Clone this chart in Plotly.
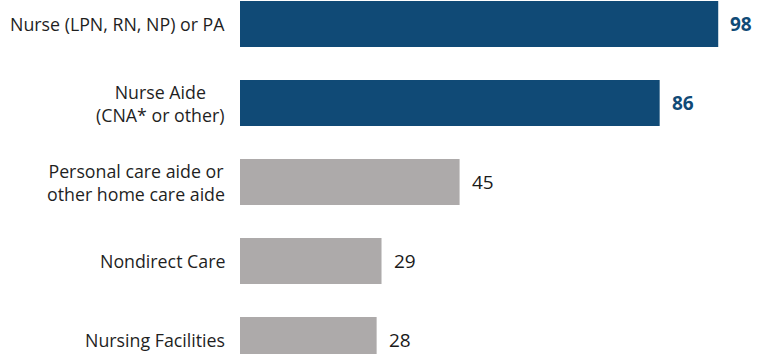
import plotly.graph_objects as go

categories = [
    "Nurse (LPN, RN, NP) or PA",
    "Nurse Aide<br>(CNA* or other)",
    "Personal care aide or<br>other home care aide",
    "Nondirect Care",
    "Nursing Facilities",
]
values = [98, 86, 45, 29, 28]
n_highlight = 2

BLUE = "#104A76"
GRAY = "#ADAAAA"
FONT = "Open Sans"

colors = [BLUE if i < n_highlight else GRAY for i in range(len(values))]

fig = go.Figure(go.Bar(
    x=values, y=categories, orientation="h",
    marker=dict(color=colors, line=dict(width=0)),
    width=0.58, hoverinfo="skip",
))

annotations = []
for i, (c, v) in enumerate(zip(categories, values)):
    hl = i < n_highlight
    annotations.append(dict(
        x=v, y=c, xref="x", yref="y", text=f"<b>{v}</b>" if hl else str(v),
        showarrow=False, xanchor="left", yanchor="middle", xshift=10,
        font=dict(family=FONT, size=19, color=BLUE if hl else "#1a1a1a"),
    ))
    annotations.append(dict(
        x=0, y=c, xref="paper", yref="y", text=c, showarrow=False,
        xanchor="right", yanchor="middle", xshift=-13, align="center",
        font=dict(family=FONT, size=17.8, color="#1f1f1f"),
    ))

fig.update_layout(
    width=758, height=354,
    margin=dict(l=240, r=0, t=0, b=0),
    paper_bgcolor="white", plot_bgcolor="white",
    showlegend=False,
    xaxis=dict(range=[0, 106.15], visible=False, fixedrange=True),
    yaxis=dict(type="category", range=[4.177, -0.304], visible=False, fixedrange=True),
    annotations=annotations,
)
fig.write_html("out.html")
